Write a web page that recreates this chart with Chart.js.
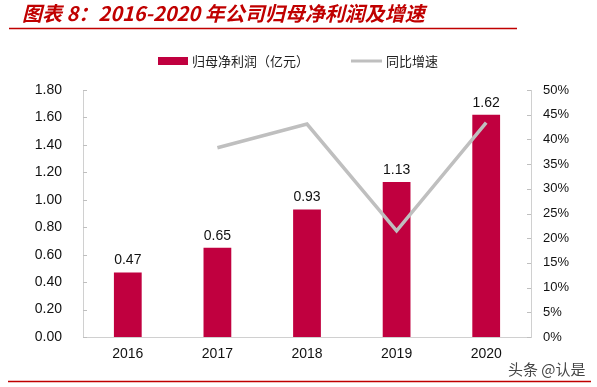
<!DOCTYPE html>
<html><head><meta charset="utf-8">
<script src="https://cdn.jsdelivr.net/npm/chart.js@4"></script>
<style>html,body{margin:0;padding:0;background:#fff;}#wrap{width:597px;height:387px;position:relative;}</style>
</head><body><div id="wrap"><canvas id="c" width="597" height="387"></canvas></div>
<script>
const categories = ['2016','2017','2018','2019','2020'];
const profit = [0.47, 0.65, 0.93, 1.13, 1.62];
const growth = [null, 38.3, 43.1, 21.5, 43.4];
const leftTicks = [0,0.2,0.4,0.6,0.8,1.0,1.2,1.4,1.6,1.8];
const rightTicks = [0,5,10,15,20,25,30,35,40,45,50];
const titleText = '图表 8：2016-2020 年公司归母净利润及增速';
const legendBar = '归母净利润（亿元）';
const legendLine = '同比增速';
const watermark = '头条 @认是';

const BAR = '#C0003F', LINE = '#BFBFBF', RED = '#C00000';
const CJK = '"Noto Sans CJK SC", sans-serif';
const NUMF = '"Liberation Sans", Arial, sans-serif';

const deco = {
  id: 'deco',
  afterDraw(chart) {
    const ctx = chart.ctx;
    ctx.save();
    // title
    ctx.fillStyle = RED;
    ctx.font = 'italic bold 20px ' + CJK;
    ctx.textBaseline = 'alphabetic';
    ctx.textAlign = 'left';
    ctx.fillText(titleText, 22, 21);
    ctx.strokeStyle = RED; ctx.lineWidth = 1.5;
    ctx.beginPath(); ctx.moveTo(9, 28.5); ctx.lineTo(517, 28.5); ctx.stroke();
    ctx.beginPath(); ctx.moveTo(8, 381.5); ctx.lineTo(591, 381.5); ctx.stroke();
    // legend
    ctx.fillStyle = BAR; ctx.fillRect(158, 57, 30, 8);
    ctx.fillStyle = '#222'; ctx.font = '13px ' + CJK; ctx.textBaseline = 'middle';
    ctx.fillText(legendBar, 192, 61);
    ctx.strokeStyle = LINE; ctx.lineWidth = 3;
    ctx.beginPath(); ctx.moveTo(351, 61); ctx.lineTo(382, 61); ctx.stroke();
    ctx.fillText(legendLine, 386, 61);
    // watermark
    ctx.fillStyle = '#444'; ctx.font = '15px ' + CJK;
    ctx.fillText(watermark, 508, 369);
    // inward tick marks
    const yl = chart.scales.y, yr = chart.scales.y1;
    ctx.strokeStyle = '#BFBFBF'; ctx.lineWidth = 1;
    leftTicks.forEach(v => { const p = Math.round(yl.getPixelForValue(v)) + 0.5; ctx.beginPath(); ctx.moveTo(yl.right, p); ctx.lineTo(yl.right + 4, p); ctx.stroke(); });
    rightTicks.forEach(v => { const p = Math.round(yr.getPixelForValue(v)) + 0.5; ctx.beginPath(); ctx.moveTo(yr.left, p); ctx.lineTo(yr.left - 4, p); ctx.stroke(); });
    // data labels
    const meta = chart.getDatasetMeta(1);
    ctx.fillStyle = '#111'; ctx.font = '14px ' + NUMF;
    ctx.textAlign = 'center'; ctx.textBaseline = 'bottom';
    meta.data.forEach((bar, i) => { ctx.fillText(profit[i].toFixed(2), bar.x, bar.y - 5); });
    ctx.restore();
  }
};

new Chart(document.getElementById('c'), {
  data: {
    labels: categories,
    datasets: [
      { type: 'line', label: legendLine, data: growth, yAxisID: 'y1', borderColor: LINE, borderWidth: 3.5, pointRadius: 0, tension: 0, order: 0 },
      { type: 'bar', label: legendBar, data: profit, yAxisID: 'y', backgroundColor: BAR, barPercentage: 0.62, categoryPercentage: 0.5, order: 1 }
    ]
  },
  options: {
    responsive: false, animation: false,
    layout: { padding: { top: 90, left: 0, right: 0, bottom: 0 } },
    plugins: { legend: { display: false }, tooltip: { enabled: false } },
    scales: {
      x: {
        grid: { display: false, tickLength: 0, drawTicks: false }, border: { color: '#D0D0D0', width: 1 },
        ticks: { color: '#111', font: { size: 14, family: NUMF }, padding: 9 },
        afterFit(s) { s.height = 50; }
      },
      y: {
        position: 'left', min: 0, max: 1.8,
        afterBuildTicks(s) { s.ticks = leftTicks.map(v => ({ value: v })); },
        grid: { display: false, tickLength: 0, drawTicks: false }, border: { color: '#D0D0D0', width: 1 },
        ticks: { color: '#111', font: { size: 14, family: NUMF }, padding: 21, callback: v => v.toFixed(2) },
        afterFit(s) { s.width = 83; }
      },
      y1: {
        position: 'right', min: 0, max: 50,
        afterBuildTicks(s) { s.ticks = rightTicks.map(v => ({ value: v })); },
        grid: { display: false, tickLength: 0, drawTicks: false }, border: { color: '#D0D0D0', width: 1 },
        ticks: { color: '#111', font: { size: 13, family: NUMF }, padding: 12, callback: v => v + '%' },
        afterFit(s) { s.width = 66; }
      }
    }
  },
  plugins: [deco]
});
</script></body></html>
